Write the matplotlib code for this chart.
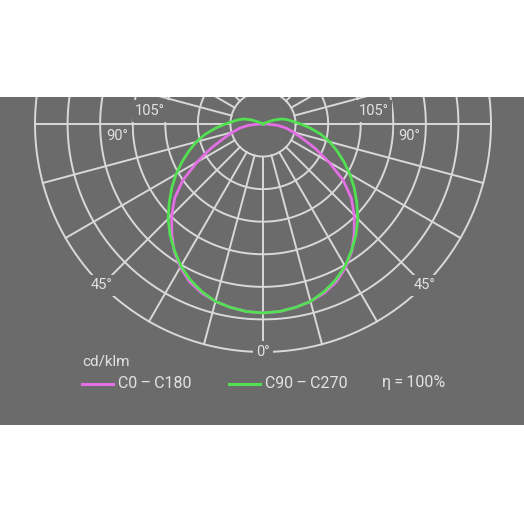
import numpy as np
import matplotlib
matplotlib.use("Agg")
import matplotlib.pyplot as plt

plt.rcParams['font.family'] = ['Roboto', 'DejaVu Sans']

# luminous intensity, cd/klm, gamma angle from nadir (deg)
gamma = [0, 5, 10, 15, 20, 25, 30, 35, 40, 45, 50, 55, 60, 65, 70, 75, 80, 85,
         90, 95, 100, 105, 110, 115, 120, 180]
c0_c180 = [290, 289, 286, 282, 276, 267, 254, 238, 218, 198, 177, 150, 117, 88,
           64, 48, 36, 22, 5, 0, 0, 0, 0, 0, 0, 0]
c90_c270 = [290, 289, 286, 282, 274, 264, 252, 237, 222, 206, 188, 171, 154, 137,
            121, 106, 90, 73, 58, 46, 38, 30, 18, 5, 0, 0]

rings = [50, 100, 150, 200, 250, 300, 350]
spokes = np.arange(0, 360, 15)
angle_labels = ["0°", "45°", "45°", "90°", "90°", "105°", "105°"]
label_pos = [(0, -350), (-247.5, -247.5), (247.5, -247.5),
             (-224, -19), (224, -19), (-173, 20), (170, 20)]

bg = '#6b6b6b'
grid_col = '#d9d9d9'
txt_col = '#e2e2e2'
col_c0 = '#e46ee4'
col_c90 = '#52e052'

fig = plt.figure(figsize=(5.24, 5.24), dpi=100, facecolor='white')
ax = fig.add_axes([0, 1 - 425 / 524, 1, 328 / 524])
ax.set_facecolor(bg)

s = 32.57 / 50  # px per cd/klm
ax.set_xlim(-263 / s, (524 - 263) / s)
ax.set_ylim(-(425 - 124) / s, (124 - 97) / s)
ax.axis('off')
ax.add_patch(plt.Rectangle((0, 0), 1, 1, transform=ax.transAxes,
                           facecolor=bg, zorder=0))

t = np.linspace(0, 2 * np.pi, 400)
for r in rings:
    ax.plot(r * np.cos(t), r * np.sin(t), color=grid_col, lw=1.4, zorder=1)
for a in spokes:
    rad = np.deg2rad(a)
    ax.plot([rings[0] * np.sin(rad), rings[-1] * np.sin(rad)],
            [-rings[0] * np.cos(rad), -rings[-1] * np.cos(rad)],
            color=grid_col, lw=1.4, zorder=1)

for lab, (x, y) in zip(angle_labels, label_pos):
    ax.text(x, y, lab, color=txt_col, fontsize=10.5, ha='center', va='center',
            zorder=3, bbox=dict(boxstyle='square,pad=0.25', fc=bg, ec='none'))


def draw_curve(vals, col):
    g = np.deg2rad(np.array(gamma))
    v = np.array(vals)
    # left half then right half (mirror)
    x = np.concatenate([-(v * np.sin(g))[::-1], v * np.sin(g)])
    y = np.concatenate([-(v * np.cos(g))[::-1], -v * np.cos(g)])
    ax.plot(x, y, color=col, lw=2.0, zorder=4, solid_joinstyle='round')


draw_curve(c0_c180, col_c0)
draw_curve(c90_c270, col_c90)

# legend
thin = "\u2009"
fig.text(82 / 524, 1 - 361 / 524, "cd/klm", color=txt_col, fontsize=11, va='center')
fig.add_artist(plt.Line2D([82 / 524, 113 / 524], [1 - 384 / 524] * 2, color=col_c0, lw=2.2))
fig.text(118 / 524, 1 - 383 / 524, f"C0{thin}–{thin}C180", color=txt_col, fontsize=11.5, va='center')
fig.add_artist(plt.Line2D([229 / 524, 260 / 524], [1 - 384 / 524] * 2, color=col_c90, lw=2.2))
fig.text(265 / 524, 1 - 383 / 524, f"C90{thin}–{thin}C270", color=txt_col, fontsize=11.5, va='center')
fig.text(382 / 524, 1 - 383 / 524, f"η{thin}={thin}100%", color=txt_col, fontsize=11.5, va='center')

fig.savefig('out.png', dpi=100, facecolor='white')
